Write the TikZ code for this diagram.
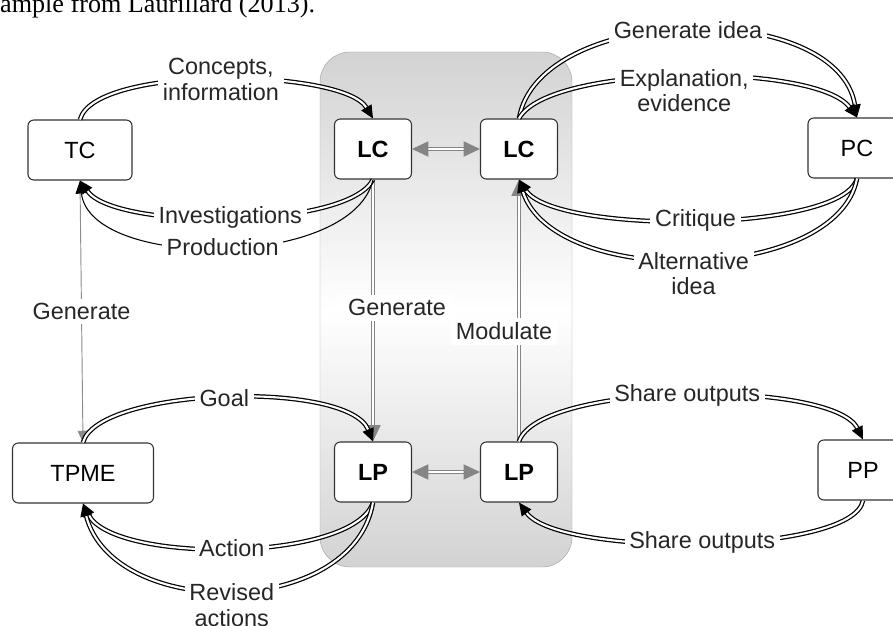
\documentclass[tikz,border=0pt]{standalone}
\usepackage{fontspec}
\setmainfont{Liberation Serif}
\setsansfont{Liberation Sans}
\usetikzlibrary{arrows.meta,positioning,calc}

\begin{document}
\begin{tikzpicture}[
    x=0.03cm, y=-0.03cm,
    box/.style={rectangle, draw=black!80, fill=white, line width=0.9pt, rounded corners=5pt, minimum width=#1, minimum height=1.8cm, font=\sffamily\fontsize{20}{22}\selectfont},
    box/.default=2.3cm,
    bbox/.style={box=2.31cm, font=\sffamily\bfseries\fontsize{20}{22}\selectfont},
    lbl/.style={fill=white, inner sep=4pt, align=center, text=black!85, font=\sffamily\fontsize{20}{22}\selectfont},
    lower/.style={yshift=-0.42cm},
    flow/.style={draw=black, double=white, double distance=1.8pt, line width=1.05pt, -{Triangle[length=11pt,width=10pt]}},
    link/.style={draw=black!48, double=white, double distance=2pt, line width=1pt, -{Triangle[length=14pt,width=13pt]}},
    thinflow/.style={draw=black, line width=0.9pt, -{Triangle[length=11pt,width=10pt]}}
]
    \useasboundingbox (0,0) rectangle (893,626);

    % caption fragment
    \node[anchor=base west, inner sep=0pt, font=\fontsize{22.3}{24}\selectfont] (cap) at (0,13) {ample from Laurillard (2013).};

    % learner panel
    \draw[draw=gray!70, rounded corners=0.9cm, top color=gray!35, bottom color=gray!35, middle color=white] (320,52) rectangle (572,567);

    % Boxes
    \node[box=3.12cm] (TC)   at (80,150)  {TC};
    \node[bbox]       (LCa)  at (373,149) {LC};
    \node[bbox]       (LCb)  at (519,149) {LC};
    \node[box=2.94cm] (PC)   at (857,148) {PC};
    \node[box=4.23cm] (TPME) at (83,473)  {TPME};
    \node[bbox]       (LPa)  at (373,472) {LP};
    \node[bbox]       (LPb)  at (519,472) {LP};
    \node[box=2.7cm]  (PP)   at (863,470) {PP};

    % Gray links
    \draw[draw=black!45, line width=0.8pt, -{Triangle[length=10pt,width=9pt]}] (TC.south) -- node[lbl] {Generate} (TPME.north);
    \draw[link] (LCa.south) -- node[lbl, pos=.49, xshift=0.72cm] {Generate} (LPa.north);
    \draw[link] (LPb.north) -- node[lbl, pos=.42, xshift=-0.45cm] {Modulate} (LCb.south);
    \draw[link, {Triangle[length=14pt,width=13pt]}-{Triangle[length=14pt,width=13pt]}] (LCa.east) -- (LCb.west);
    \draw[link, {Triangle[length=14pt,width=13pt]}-{Triangle[length=14pt,width=13pt]}] (LPa.east) -- (LPb.west);

    % Teacher concept loop
    \draw[flow] (TC.north) .. controls +(15,-55) and +(-30,-50) .. node[lbl] {Concepts,\\information} (LCa.north);
    \draw[flow] (LCa.south) .. controls +(-25,50) and +(35,50) .. node[lbl] {Investigations} (TC.south);
    \draw[thinflow] (LCa.south) .. controls +(-20,90) and +(10,90) .. node[lbl] {Production} (TC.south);

    % Peer concept loop
    \draw[flow] (LCb.north) .. controls +(20,-115) and +(-20,-120) .. node[lbl] {Generate idea} (PC.north);
    \draw[flow] (LCb.north) .. controls +(30,-55) and +(-40,-55) .. node[lbl, lower] {Explanation,\\evidence} (PC.north);
    \draw[flow] (PC.south) .. controls +(-15,55) and +(35,55) .. node[lbl] {Critique} (LCb.south);
    \draw[flow] (PC.south) .. controls +(-20,105) and +(35,110) .. node[lbl, lower] {Alternative\\idea} (LCb.south);

    % Teacher practice loop
    \draw[flow] (TPME.north) .. controls +(15,-55) and +(-25,-62) .. node[lbl] {Goal} (LPa.north);
    \draw[flow] (LPa.south) .. controls +(-20,60) and +(30,60) .. node[lbl] {Action} (TPME.south);
    \draw[flow] (LPa.south) .. controls +(-20,117) and +(30,117) .. node[lbl, lower] {Revised\\actions} (TPME.south);

    % Peer practice loop
    \draw[flow] (LPb.north) .. controls +(20,-60) and +(-30,-60) .. node[lbl] {Share outputs} (PP.north);
    \draw[flow] (PP.south) .. controls +(-10,55) and +(40,55) .. node[lbl] {Share outputs} (LPb.south);

\end{tikzpicture}
\end{document}
